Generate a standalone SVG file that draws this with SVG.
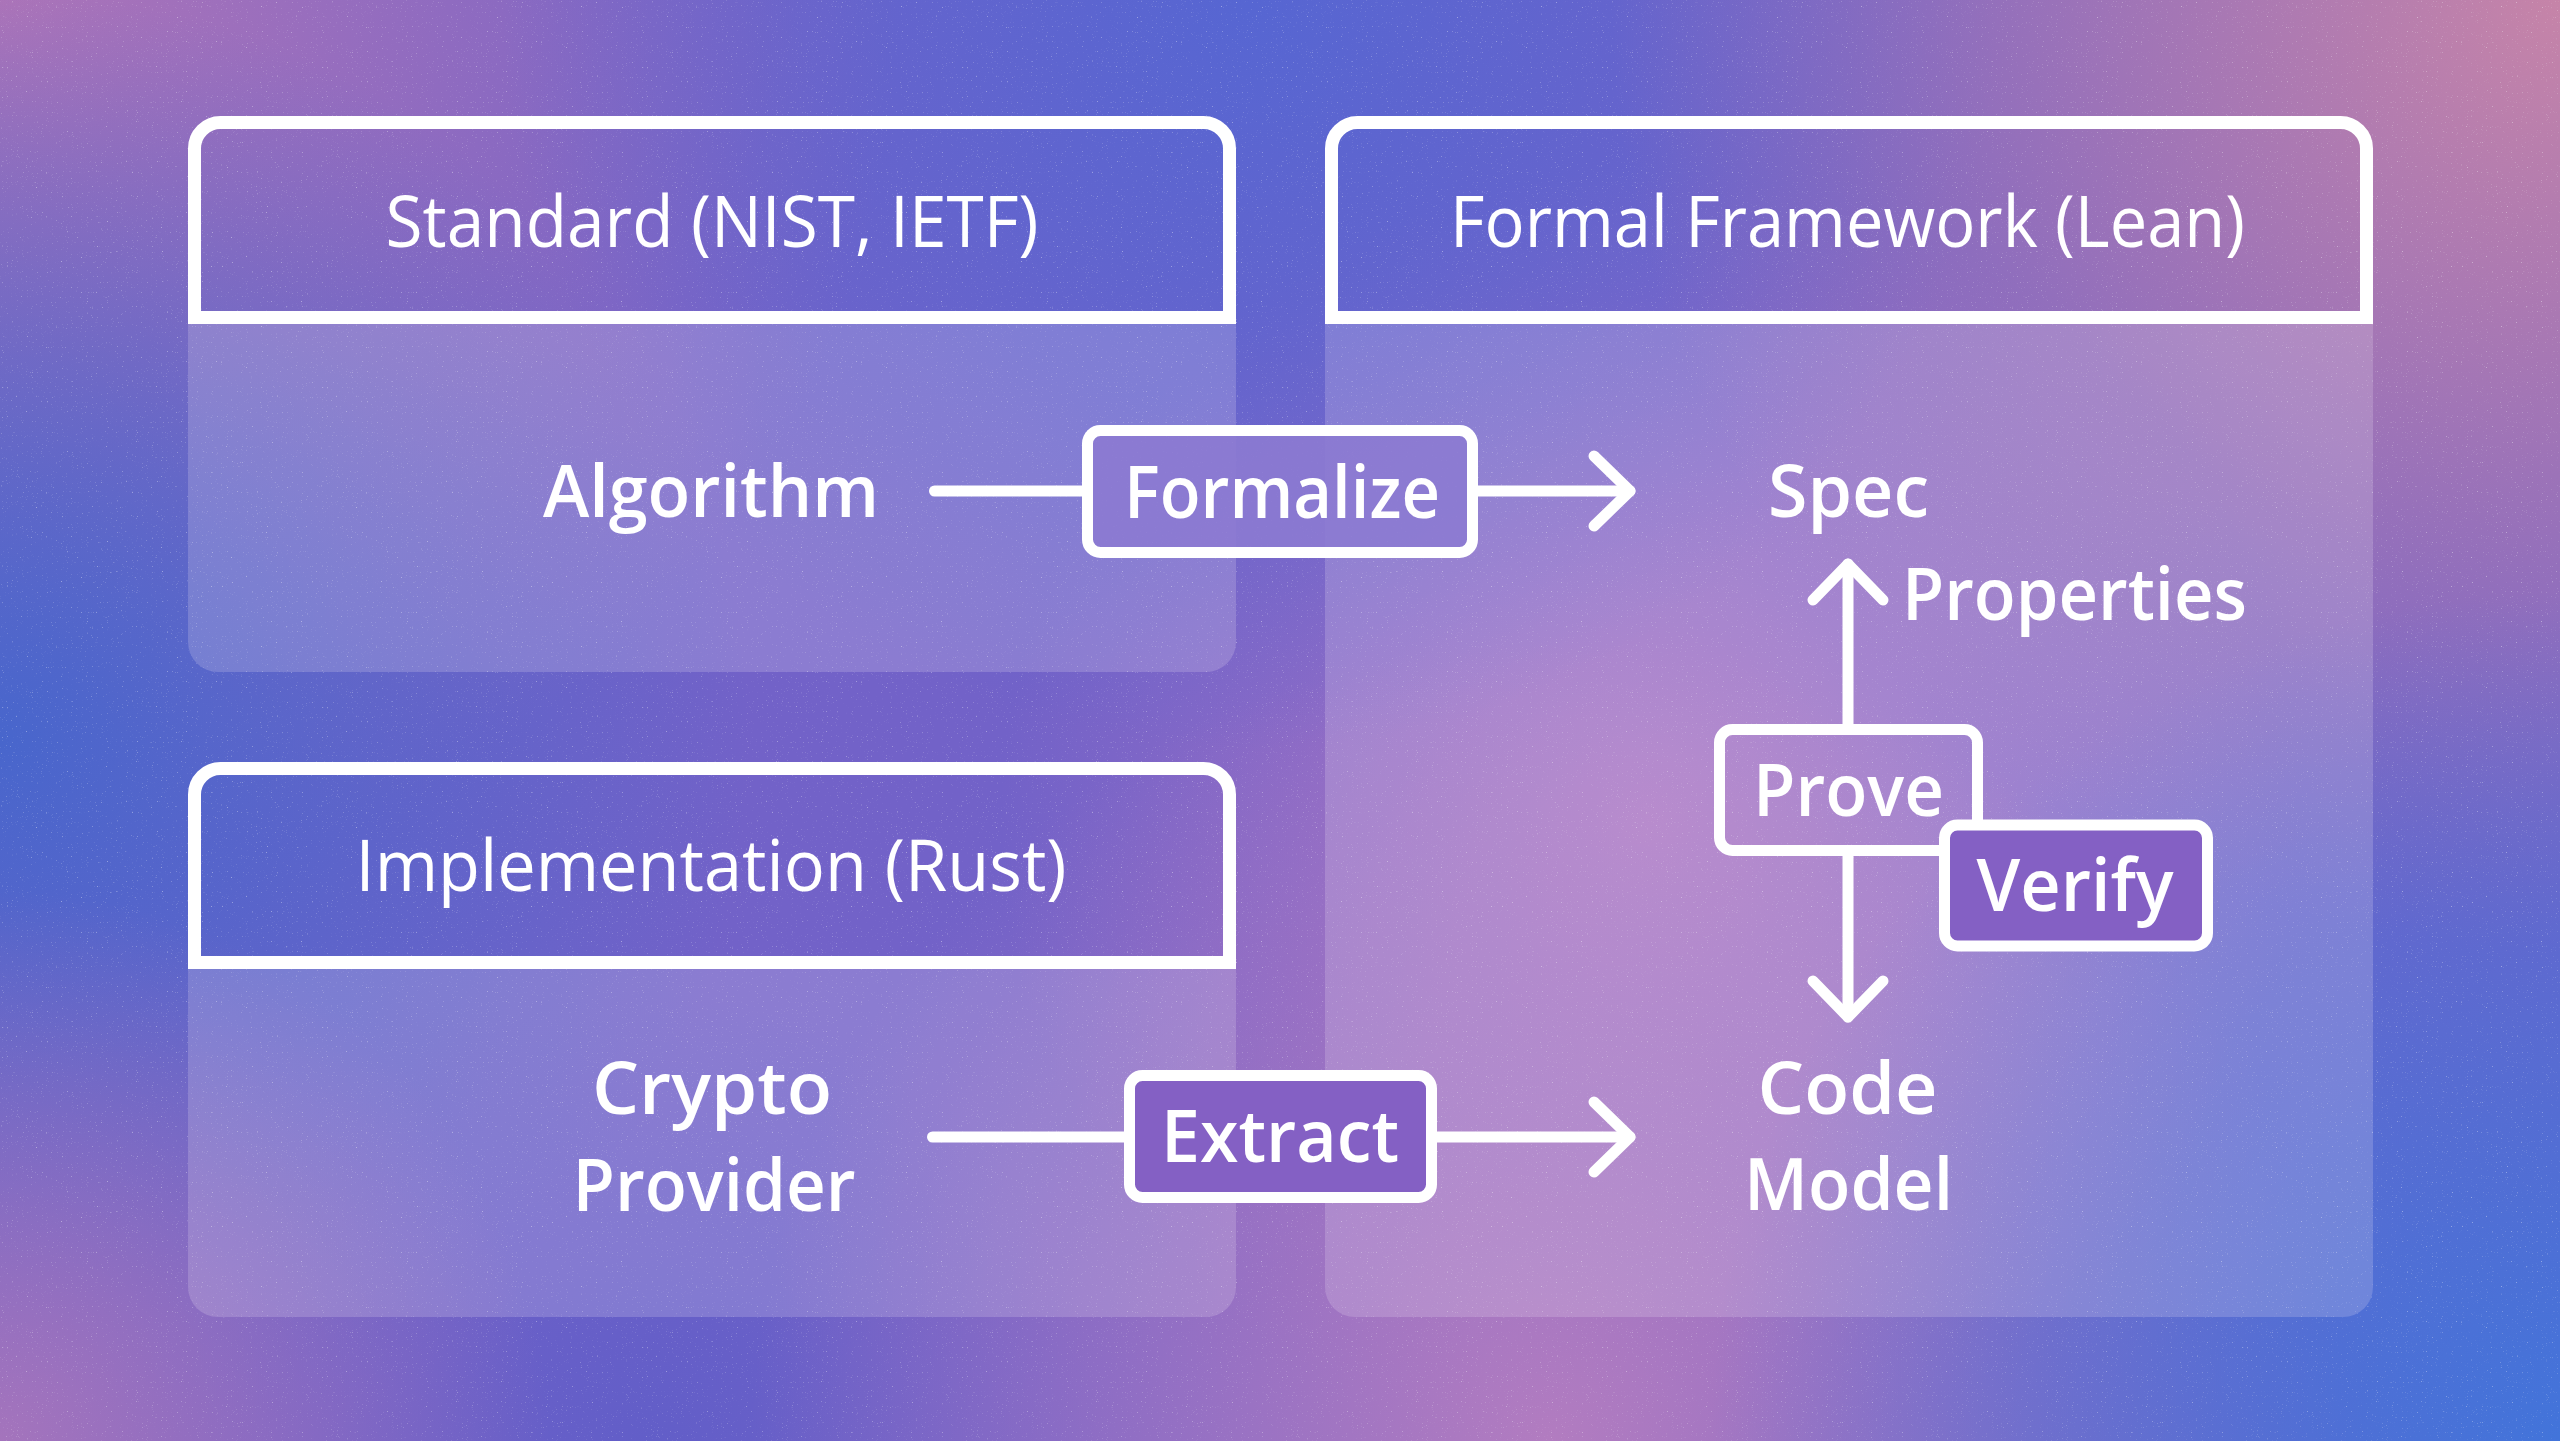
<svg xmlns="http://www.w3.org/2000/svg" width="2560" height="1441" viewBox="0 0 2560 1441">
<defs>
<radialGradient id="gTL" cx="0" cy="0" r="900" gradientUnits="userSpaceOnUse"><stop offset="0" stop-color="#ac74b8"/><stop offset="1" stop-color="#ac74b8" stop-opacity="0"/></radialGradient>
<radialGradient id="gLM" cx="0" cy="740" r="750" gradientUnits="userSpaceOnUse"><stop offset="0" stop-color="#4866cc"/><stop offset="1" stop-color="#4866cc" stop-opacity="0"/></radialGradient>
<radialGradient id="gTC" cx="1250" cy="0" r="750" gradientUnits="userSpaceOnUse"><stop offset="0" stop-color="#5666d2"/><stop offset="1" stop-color="#5666d2" stop-opacity="0"/></radialGradient>
<radialGradient id="gTR" cx="2560" cy="0" r="950" gradientUnits="userSpaceOnUse"><stop offset="0" stop-color="#c684a8"/><stop offset="1" stop-color="#c684a8" stop-opacity="0"/></radialGradient>
<radialGradient id="gMID" cx="1650" cy="820" r="650" gradientUnits="userSpaceOnUse"><stop offset="0" stop-color="#a874c4"/><stop offset="1" stop-color="#a874c4" stop-opacity="0"/></radialGradient>
<radialGradient id="gBC" cx="1550" cy="1441" r="800" gradientUnits="userSpaceOnUse"><stop offset="0" stop-color="#b27cc0"/><stop offset="1" stop-color="#b27cc0" stop-opacity="0"/></radialGradient>
<radialGradient id="gBR" cx="2560" cy="1441" r="850" gradientUnits="userSpaceOnUse"><stop offset="0" stop-color="#4274da"/><stop offset="1" stop-color="#4274da" stop-opacity="0"/></radialGradient>
<radialGradient id="gBL" cx="0" cy="1441" r="550" gradientUnits="userSpaceOnUse"><stop offset="0" stop-color="#a474bc"/><stop offset="1" stop-color="#a474bc" stop-opacity="0"/></radialGradient>
<radialGradient id="gBM" cx="650" cy="1441" r="450" gradientUnits="userSpaceOnUse"><stop offset="0" stop-color="#625ec8"/><stop offset="1" stop-color="#625ec8" stop-opacity="0"/></radialGradient>
<filter id="speck" x="0" y="0" width="100%" height="100%">
<feTurbulence type="fractalNoise" baseFrequency="0.8" numOctaves="1" seed="7" result="n"/>
<feColorMatrix in="n" type="matrix" values="0 0 0 0 1  0 0 0 0 1  0 0 0 0 1  6 0 0 0 -4.0"/>
</filter>
<marker id="chev" viewBox="-45 -45 90 90" markerWidth="90" markerHeight="90" refX="0" refY="0" orient="auto" markerUnits="userSpaceOnUse">
<path d="M-36,-35 L0,0 L-36,35" fill="none" stroke="#ffffff" stroke-width="11" stroke-linecap="round" stroke-linejoin="round"/>
</marker>
<style>
.hdr{fill:none;stroke:#ffffff;stroke-width:13;stroke-linejoin:miter}
.body{fill:#eee8f6;fill-opacity:0.2}
.box{stroke:#ffffff;stroke-width:11}
.open{fill:none}
.filled{fill:#8460c4}
.soft{fill:#8c7ad2;fill-opacity:0.9}
.conn{fill:none;stroke:#ffffff;stroke-width:11;stroke-linecap:round;stroke-linejoin:round}
.ht{font-family:"Open Sans","Liberation Sans",sans-serif;font-size:72px;font-weight:400;fill:#ffffff}
.lt{font-family:"Open Sans","Liberation Sans",sans-serif;font-size:72px;font-weight:600;fill:#ffffff}
</style>
</defs>

<g id="background">
<rect x="0" y="0" width="2560" height="1441" fill="#7262c8"/>
<rect x="0" y="0" width="2560" height="1441" fill="url(#gMID)"/>
<rect x="0" y="0" width="2560" height="1441" fill="url(#gTL)"/>
<rect x="0" y="0" width="2560" height="1441" fill="url(#gTC)"/>
<rect x="0" y="0" width="2560" height="1441" fill="url(#gTR)"/>
<rect x="0" y="0" width="2560" height="1441" fill="url(#gLM)"/>
<rect x="0" y="0" width="2560" height="1441" fill="url(#gBM)"/>
<rect x="0" y="0" width="2560" height="1441" fill="url(#gBC)"/>
<rect x="0" y="0" width="2560" height="1441" fill="url(#gBR)"/>
<rect x="0" y="0" width="2560" height="1441" fill="url(#gBL)"/>
<rect x="0" y="0" width="2560" height="1441" fill="#ffffff" filter="url(#speck)" opacity="0.4"/>
</g>

<g id="panel-standard">
<path class="body" d="M188,324 H1236 V642 A30,30 0 0 1 1206,672 H218 A30,30 0 0 1 188,642 Z"/>
<path class="hdr" d="M194.5,317.5 V148.5 A26,26 0 0 1 220.5,122.5 H1203.5 A26,26 0 0 1 1229.5,148.5 V317.5 Z"/>
<text class="ht" x="385.5" y="247" textLength="653" lengthAdjust="spacingAndGlyphs">Standard (NIST, IETF)</text>
</g>

<g id="panel-formal">
<path class="body" d="M1325,324 H2373 V1287 A30,30 0 0 1 2343,1317 H1355 A30,30 0 0 1 1325,1287 Z"/>
<path class="hdr" d="M1331.5,317.5 V148.5 A26,26 0 0 1 1357.5,122.5 H2340.5 A26,26 0 0 1 2366.5,148.5 V317.5 Z"/>
<text class="ht" x="1450" y="247" textLength="795" lengthAdjust="spacingAndGlyphs">Formal Framework (Lean)</text>
</g>

<g id="panel-implementation">
<path class="body" d="M188,969 H1236 V1287 A30,30 0 0 1 1206,1317 H218 A30,30 0 0 1 188,1287 Z"/>
<path class="hdr" d="M194.5,962.5 V794.5 A26,26 0 0 1 220.5,768.5 H1203.5 A26,26 0 0 1 1229.5,794.5 V962.5 Z"/>
<text class="ht" x="355.5" y="891" textLength="711" lengthAdjust="spacingAndGlyphs">Implementation (Rust)</text>
</g>

<g id="connectors">
<path class="conn" d="M934.5,491 H1087.5"/>
<path class="conn" d="M1478,491 H1630" marker-end="url(#chev)"/>
<path class="conn" d="M932.5,1137 H1129.5"/>
<path class="conn" d="M1437,1137 H1630" marker-end="url(#chev)"/>
<path class="conn" d="M1848,729.5 V564" marker-end="url(#chev)"/>
<path class="conn" d="M1848,850.5 V1017" marker-end="url(#chev)"/>
</g>

<g id="node-algorithm">
<text class="lt" x="543" y="517" textLength="336" lengthAdjust="spacingAndGlyphs">Algorithm</text>
</g>
<g id="node-formalize">
<rect class="box soft" x="1087.5" y="430.5" width="385" height="122" rx="13"/>
<text class="lt" x="1124" y="518" textLength="316" lengthAdjust="spacingAndGlyphs">Formalize</text>
</g>
<g id="node-spec">
<text class="lt" x="1768" y="517" textLength="161" lengthAdjust="spacingAndGlyphs">Spec</text>
</g>
<g id="node-properties">
<text class="lt" x="1902" y="620" textLength="345" lengthAdjust="spacingAndGlyphs">Properties</text>
</g>
<g id="node-prove">
<rect class="box open" x="1719.5" y="729.5" width="258" height="121" rx="13"/>
<text class="lt" x="1753" y="816" textLength="191" lengthAdjust="spacingAndGlyphs">Prove</text>
</g>
<g id="node-verify">
<rect class="box filled" x="1944.5" y="825" width="263" height="121" rx="13"/>
<text class="lt" x="1976.5" y="911" textLength="197" lengthAdjust="spacingAndGlyphs">Verify</text>
</g>
<g id="node-crypto-provider">
<text class="lt" x="592" y="1114" textLength="240" lengthAdjust="spacingAndGlyphs">Crypto</text>
<text class="lt" x="572.5" y="1210.5" textLength="283" lengthAdjust="spacingAndGlyphs">Provider</text>
</g>
<g id="node-extract">
<rect class="box filled" x="1129.5" y="1075.5" width="302" height="122" rx="13"/>
<text class="lt" x="1161" y="1162" textLength="238" lengthAdjust="spacingAndGlyphs">Extract</text>
</g>
<g id="node-code-model">
<text class="lt" x="1757.5" y="1114" textLength="180" lengthAdjust="spacingAndGlyphs">Code</text>
<text class="lt" x="1744" y="1210" textLength="209" lengthAdjust="spacingAndGlyphs">Model</text>
</g>
</svg>
